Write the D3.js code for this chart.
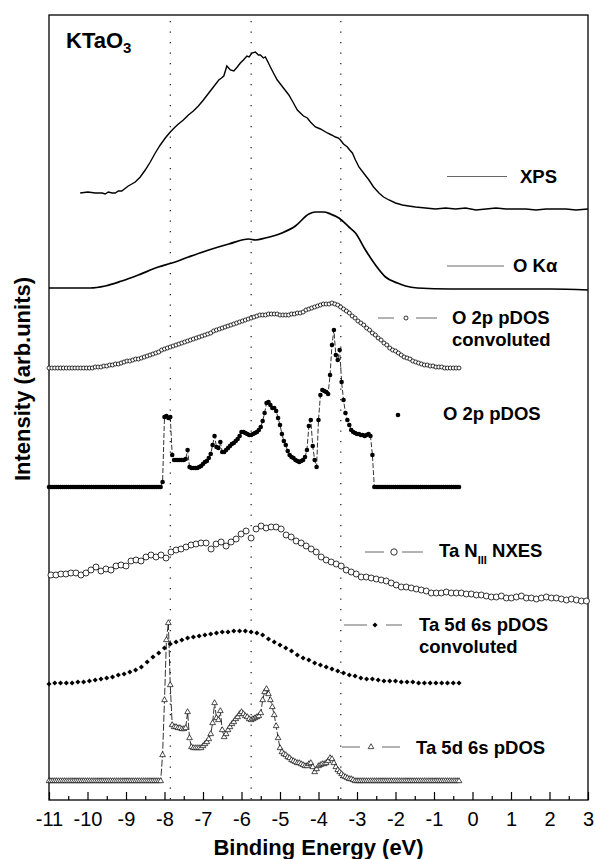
<!DOCTYPE html>
<html><head><meta charset="utf-8">
<script src="https://cdn.jsdelivr.net/npm/d3@7"></script>
<style>
body{margin:0;background:#fff}
svg{display:block}
text{font-family:"Liberation Sans",Arial,Helvetica,sans-serif;fill:#000}
</style>
</head><body>
<svg id="c" width="595" height="859"></svg>
<script>
// ---------------- DATA ----------------
const tickLabels = [-11,-10,-9,-8,-7,-6,-5,-4,-3,-2,-1,0,1,2,3];
const minorTicks = [-10.5,-9.5,-8.5,-7.5,-6.5,-5.5,-4.5,-3.5,-2.5,-1.5,-0.5,0.5,1.5,2.5];
const guideEnergies = [-7.85,-5.75,-3.42];

// XPS (eV, intensity arb. units)
const xpsE = [-10.19,-9.99,-9.80,-9.62,-9.54,-9.46,-9.36,-9.28,-9.20,-9.11,
-8.94,-8.76,-8.63,-8.50,-8.37,-8.24,-8.11,-7.98,-7.85,-7.75,
-7.64,-7.51,-7.38,-7.25,-7.12,-6.99,-6.85,-6.73,-6.59,-6.52,
-6.46,-6.38,-6.29,-6.20,-6.11,-6.03,-5.95,-5.86,-5.80,-5.73,
-5.64,-5.56,-5.51,-5.43,-5.38,-5.30,-5.25,-5.17,-5.07,-4.99,
-4.89,-4.77,-4.68,-4.55,-4.47,-4.39,-4.29,-4.21,-4.08,-3.95,
-3.77,-3.66,-3.56,-3.48,-3.43,-3.35,-3.25,-3.19,-3.12,-3.04,
-2.95,-2.83,-2.69,-2.57,-2.43,-2.31,-2.17,-2.00,-1.82,-1.66,
-1.48,-1.22,-0.96,-0.70,-0.44,-0.18,0.09,0.35,0.61,0.87,
1.13,1.39,1.65,1.91,2.17,2.43,2.69,3.00];
const xpsI = [607,608,607,607,606,608,607,607,609,609,
614,618,623,630,638,647,655,662,668,672,
676,680,685,689,694,700,707,713,720,722,
724,734,730,729,733,737,740,744,743,747,
748,745,745,742,743,737,733,727,720,716,
711,705,699,690,687,684,682,678,673,671,
667,665,663,662,660,656,653,650,647,640,
633,627,620,613,607,603,600,597,595,594,
593,592,591,592,591,592,590,591,592,591,
591,591,590,591,591,591,590,591];

// O K-alpha emission
const okE = [-11.00,-10.32,-9.93,-9.54,-9.11,-8.68,-8.16,-7.81,-7.38,-6.85,
-6.33,-5.81,-5.64,-5.38,-4.95,-4.60,-4.25,-4.08,-3.86,-3.69,
-3.47,-3.21,-3.04,-2.78,-2.52,-2.26,-1.95,-1.74,-1.43,-0.57,
0.74,2.04,3.00];
const okI = [512,512,512,514,519,525,533,537,543,550,
556,561,560,562,567,574,586,588,588,586,
582,573,567,550,535,523,517,514,512,511,
511,511,510];

// O 2p pDOS convoluted: grid from -11 eV, step 0.075 eV
const o2pConvStart = -11, o2pConvStep = 0.075;
const o2pConvI = [432,432,432,432,432,432,432,432,432,432,
432,432,432,432,432,432,433,433,433,434,
434,435,435,436,436,437,438,439,439,440,
441,441,442,443,444,445,446,447,448,450,
451,452,453,454,455,456,457,458,459,460,
461,462,463,464,465,466,467,469,470,471,
472,473,474,475,476,477,478,479,480,481,
482,483,484,485,485,485,486,486,486,486,
485,485,485,485,486,486,487,487,488,490,
491,492,493,494,495,496,496,496,497,496,
495,493,491,489,487,484,482,479,477,475,
472,470,467,465,462,460,457,455,452,450,
449,447,445,443,442,441,439,438,437,436,
435,435,434,434,433,433,433,432,432,432,
432,432,432];

// O 2p pDOS: grid from -11 eV, step 0.05 eV
const o2pStart = -11, o2pStep = 0.05;
const o2pI = [313,313,313,313,313,313,313,313,313,313,
313,313,313,313,313,313,313,313,313,313,
313,313,313,313,313,313,313,313,313,313,
313,313,313,313,313,313,313,313,313,313,
313,313,313,313,313,313,313,313,313,313,
313,313,313,313,313,313,313,313,313,318,
383,384,382,383,345,340,340,340,340,340,
340,341,350,333,332,332,332,332,333,334,
336,338,339,342,346,355,364,353,352,358,
348,348,350,352,354,356,357,359,361,364,
368,368,367,366,365,365,366,367,368,370,
373,379,387,397,398,395,392,392,389,382,
375,366,359,355,349,345,343,342,340,339,
338,339,340,343,350,374,380,354,340,333,
380,405,410,409,408,406,425,455,470,445,
440,450,418,400,387,380,375,370,368,367,
366,366,365,365,364,365,366,364,345,313,
313,313,313,313,313,313,313,313,313,313,
313,313,313,313,313,313,313,313,313,313,
313,313,313,313,313,313,313,313,313,313,
313,313,313,313,313,313,313,313,313,313,
313,313,313,313];

// Ta N_III NXES: grid from -10.95 eV, step 0.13 eV
const nxesStart = -10.95, nxesStep = 0.13;
const nxesI = [225,225,226,226,227,227,225,227,230,233,
229,231,230,234,235,234,239,240,239,243,
245,243,245,242,248,250,251,253,255,256,
257,257,251,256,258,254,258,261,266,269,
262,271,274,272,273,273,271,265,263,259,
257,254,251,248,243,240,238,236,234,230,
228,226,223,223,222,221,220,219,217,215,
213,213,212,211,210,209,207,207,207,208,
207,207,207,206,206,205,205,204,203,203,
204,202,202,203,204,202,202,201,202,203,
202,202,201,200,201,200,199,199];

// Ta 5d 6s pDOS convoluted: grid from -11 eV, step 0.15 eV
const taConvStart = -11, taConvStep = 0.15;
const taConvI = [116,117,117,117,117,118,118,119,120,121,
122,123,125,126,128,130,133,138,143,147,
152,156,158,160,162,163,164,165,166,167,
168,168,169,169,169,168,167,165,161,158,
155,152,149,145,142,140,137,135,133,131,
129,127,125,124,122,121,121,120,119,119,
119,118,118,118,117,117,117,117,117,117,
117,117];

// Ta 5d 6s pDOS: grid from -11 eV, step 0.05 eV
const taStart = -11, taStep = 0.05;
const taI = [19,19,19,19,19,19,19,19,19,19,
19,19,19,19,19,19,19,19,19,19,
19,19,19,19,19,19,19,19,19,19,
19,19,19,19,19,19,19,19,19,19,
19,19,19,19,19,19,19,19,19,19,
19,19,19,19,19,19,19,19,19,45,
100,160,177,115,75,73,73,72,72,71,
71,72,88,62,53,52,52,52,52,52,
54,56,58,61,66,77,97,82,80,89,
70,63,66,70,73,76,78,81,83,86,
88,86,84,83,81,80,81,82,83,84,
87,100,108,111,106,100,93,85,74,62,
52,48,46,45,43,42,40,39,38,37,
37,36,35,34,34,36,37,33,28,31,
34,35,36,36,37,39,42,41,37,33,
30,28,26,24,23,22,21,21,20,19,
19,19,19,19,19,19,19,19,19,19,
19,19,19,19,19,19,19,19,19,19,
19,19,19,19,19,19,19,19,19,19,
19,19,19,19,19,19,19,19,19,19,
19,19,19,19,19,19,19,19,19,19,
19,19,19,19];

// ---------------- CHART ----------------
const svg = d3.select("#c");
const L = 49, R = 588, T = 15, B = 800;
const x = d3.scaleLinear().domain([-11, 3]).range([L, R]);
const y = d3.scaleLinear().domain([0, 785]).range([B, T]);

const pairs = (E, I) => E.map((e, i) => [e, I[i]]);
const grid = (start, step, I) => I.map((v, i) => [start + step * i, v]);

const xps = pairs(xpsE, xpsI);
const ok = pairs(okE, okI);
const o2pConv = grid(o2pConvStart, o2pConvStep, o2pConvI);
const o2p = grid(o2pStart, o2pStep, o2pI);
const nxes = grid(nxesStart, nxesStep, nxesI);
const taConv = grid(taConvStart, taConvStep, taConvI);
const ta = grid(taStart, taStep, taI);

// frame
svg.append("rect").attr("x", L).attr("y", T).attr("width", R - L).attr("height", B - T)
  .attr("fill", "none").attr("stroke", "#000").attr("stroke-width", 1.3);

// guide dotted lines
svg.append("g").selectAll("line").data(guideEnergies).join("line")
  .attr("x1", d => x(d)).attr("x2", d => x(d))
  .attr("y1", T + 6).attr("y2", B)
  .attr("stroke", "#000").attr("stroke-width", 1.1)
  .attr("stroke-dasharray", "1.2,9.3");

// axes
const ax = svg.append("g").attr("transform", `translate(0,${B})`)
  .call(d3.axisBottom(x).tickValues(tickLabels).tickSize(-8).tickPadding(12)
    .tickFormat(d => String(d)));
ax.select(".domain").remove();
ax.selectAll(".tick line").attr("stroke", "#000").attr("stroke-width", 1.2);
ax.selectAll(".tick text").attr("font-size", 20).attr("font-family", '"Liberation Sans",Arial,sans-serif').attr("fill", "#000");
const axm = svg.append("g").attr("transform", `translate(0,${B})`)
  .call(d3.axisBottom(x).tickValues(minorTicks).tickSize(-4).tickFormat(""));
axm.select(".domain").remove();
axm.selectAll(".tick line").attr("stroke", "#000").attr("stroke-width", 1.2);

// titles
svg.append("text").attr("x", (L + R) / 2).attr("y", 855).attr("text-anchor", "middle")
  .attr("font-size", 22).attr("font-weight", "bold").text("Binding Energy (eV)");
svg.append("text").attr("transform", "translate(30,379) rotate(-90)").attr("text-anchor", "middle")
  .attr("font-size", 22).attr("font-weight", "bold").text("Intensity (arb.units)");
const kt = svg.append("text").attr("x", 66).attr("y", 48).attr("font-size", 22).attr("font-weight", "bold");
kt.append("tspan").text("KTaO");
kt.append("tspan").attr("font-size", 15).attr("dy", 5).text("3");

// lines
const line = d3.line().x(d => x(d[0])).y(d => y(d[1]));
svg.append("path").datum(xps).attr("d", line).attr("fill", "none").attr("stroke", "#000").attr("stroke-width", 1.4);
svg.append("path").datum(ok).attr("d", line.curve(d3.curveMonotoneX)).attr("fill", "none").attr("stroke", "#000").attr("stroke-width", 1.7);
line.curve(d3.curveLinear);

// O 2p pDOS convoluted
svg.append("g").selectAll("circle").data(o2pConv).join("circle")
  .attr("cx", d => x(d[0])).attr("cy", d => y(d[1])).attr("r", 2)
  .attr("fill", "#fff").attr("stroke", "#000").attr("stroke-width", 0.8);

// O 2p pDOS
svg.append("path").datum(o2p).attr("d", line).attr("fill", "none").attr("stroke", "#000")
  .attr("stroke-width", 0.8).attr("stroke-dasharray", "5,2");
svg.append("g").selectAll("circle").data(o2p).join("circle")
  .attr("cx", d => x(d[0])).attr("cy", d => y(d[1])).attr("r", 2.3).attr("fill", "#000");

// Ta NIII NXES
svg.append("g").selectAll("circle").data(nxes).join("circle")
  .attr("cx", d => x(d[0])).attr("cy", d => y(d[1])).attr("r", 3)
  .attr("fill", "#fff").attr("stroke", "#000").attr("stroke-width", 0.8);

// Ta 5d 6s convoluted (diamonds)
const diamond = d3.symbol().type(d3.symbolSquare).size(13)();
svg.append("g").selectAll("path").data(taConv).join("path")
  .attr("d", diamond)
  .attr("transform", d => `translate(${x(d[0])},${y(d[1])}) rotate(45)`)
  .attr("fill", "#000");

// Ta 5d 6s pDOS (triangles)
svg.append("path").datum(ta).attr("d", line).attr("fill", "none").attr("stroke", "#000")
  .attr("stroke-width", 0.8).attr("stroke-dasharray", "7,2");
const tri = d3.symbol().type(d3.symbolTriangle).size(14)();
svg.append("g").selectAll("path").data(ta).join("path")
  .attr("d", tri)
  .attr("transform", d => `translate(${x(d[0])},${y(d[1])})`)
  .attr("fill", "#fff").attr("stroke", "#000").attr("stroke-width", 0.7);

// ---------------- LEGEND ----------------
const lg = svg.append("g");
const gray = "#666";
function seg(x1, x2, yy) {
  lg.append("line").attr("x1", x1).attr("x2", x2).attr("y1", yy).attr("y2", yy)
    .attr("stroke", gray).attr("stroke-width", 1);
}
function label(tx, ty, s) {
  return lg.append("text").attr("x", tx).attr("y", ty).attr("font-size", 18.5).attr("font-weight", "bold").text(s);
}
// XPS
seg(447, 507, 176.5); label(520, 183, "XPS");
// O K alpha
seg(447, 504, 266); label(513, 272, "O K\u03b1");
// O 2p pDOS convoluted
seg(378, 394, 318); seg(416, 437, 318);
lg.append("circle").attr("cx", 406).attr("cy", 318).attr("r", 2).attr("fill", "#fff").attr("stroke", "#000").attr("stroke-width", 0.8);
label(452, 324, "O 2p pDOS"); label(452, 346, "convoluted");
// O 2p pDOS
lg.append("circle").attr("cx", 398).attr("cy", 415).attr("r", 2.3).attr("fill", "#000");
label(443, 420, "O 2p pDOS");
// Ta NIII NXES
seg(365, 384, 552); seg(402, 423, 552);
lg.append("circle").attr("cx", 394).attr("cy", 552).attr("r", 3.2).attr("fill", "#fff").attr("stroke", "#000").attr("stroke-width", 0.8);
const nt = label(439, 557, "Ta N");
nt.append("tspan").attr("font-size", 11).attr("dy", 7).text("III");
nt.append("tspan").attr("dy", -7).text(" NXES");
// Ta 5d 6s pDOS convoluted
seg(344, 367, 625); seg(386, 402, 625);
lg.append("path").attr("d", diamond).attr("transform", "translate(375,625) rotate(45)").attr("fill", "#000");
label(419, 631, "Ta 5d 6s pDOS"); label(419, 653, "convoluted");
// Ta 5d 6s pDOS
seg(342, 360, 747); seg(382, 400, 747);
lg.append("path").attr("d", tri).attr("transform", "translate(371,747)").attr("fill", "#fff").attr("stroke", "#000").attr("stroke-width", 0.7);
label(416, 754, "Ta 5d 6s pDOS");
</script>
</body></html>
